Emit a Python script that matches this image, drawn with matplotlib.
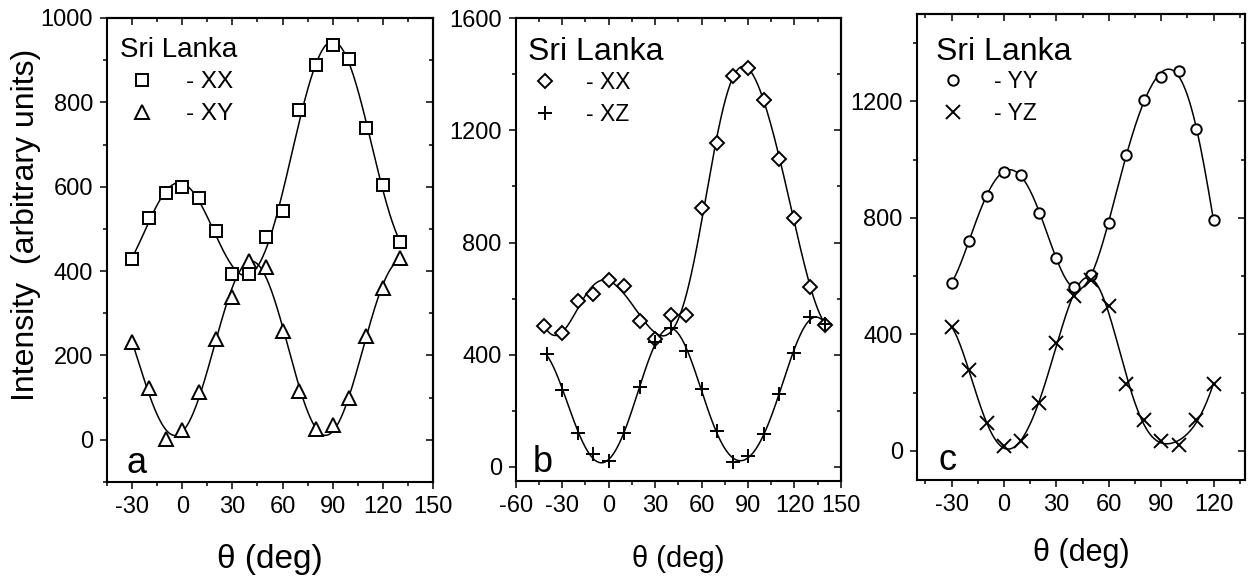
import numpy as np
import matplotlib
matplotlib.use('Agg')
import matplotlib.pyplot as plt
from matplotlib.ticker import MultipleLocator
from matplotlib.lines import Line2D

plt.rcParams['font.family'] = ['Liberation Sans', 'DejaVu Sans']
plt.rcParams['axes.unicode_minus'] = False

# panel a
theta_a = [-30, -20, -10, 0, 10, 20, 30, 40, 50, 60, 70, 80, 90, 100, 110, 120, 130]
xx_a = [428, 525, 586, 600, 573, 495, 393, 393, 481, 542, 783, 888, 935, 903, 740, 604, 468]
xy_a = [231, 123, 2, 24, 113, 239, 338, 424, 410, 259, 115, 26, 34, 99, 245, 361, 430]

# panel b
theta_b_xx = [-42, -30, -20, -10, 0, 10, 20, 30, 40, 50, 60, 70, 80, 90, 100, 110, 120, 130, 140]
xx_b = [503, 477, 590, 617, 665, 646, 521, 456, 543, 543, 923, 1154, 1394, 1421, 1308, 1097, 887, 641, 507]
theta_b_xz = [-40, -30, -20, -10, 0, 10, 20, 30, 40, 50, 60, 70, 80, 90, 100, 110, 120, 130, 140]
xz_b = [404, 275, 121, 46, 20, 121, 285, 444, 495, 414, 279, 130, 16, 38, 119, 261, 408, 534, 510]

# panel c
theta_c = [-30, -20, -10, 0, 10, 20, 30, 40, 50, 60, 70, 80, 90, 100, 110, 120]
yy_c = [577, 722, 875, 957, 948, 817, 661, 562, 604, 783, 1017, 1204, 1282, 1303, 1104, 793]
yz_c = [426, 277, 94, 15, 34, 166, 370, 530, 585, 499, 231, 106, 34, 21, 106, 229]


def harmonic_fit(x, y, order=3, n=400):
    # least squares fit: linear trend + cos(2k theta), sin(2k theta)
    x = np.asarray(x, float)
    y = np.asarray(y, float)
    def basis(t):
        r = np.radians(t)
        cols = [np.ones_like(r), r]
        for k in range(1, order + 1):
            cols += [np.cos(2 * k * r), np.sin(2 * k * r)]
        return np.column_stack(cols)
    coef, *_ = np.linalg.lstsq(basis(x), y, rcond=None)
    xs = np.linspace(x.min(), x.max(), n)
    return xs, basis(xs) @ coef


def style(ax, xlim, ylim, xmaj, ymaj, ymin):
    ax.set_xlim(*xlim)
    ax.set_ylim(*ylim)
    ax.xaxis.set_major_locator(MultipleLocator(xmaj))
    ax.xaxis.set_minor_locator(MultipleLocator(xmaj / 2))
    ax.yaxis.set_major_locator(MultipleLocator(ymaj))
    ax.yaxis.set_minor_locator(MultipleLocator(ymin))
    ax.tick_params(which='both', direction='out', width=1.1, labelsize=17, pad=5)
    ax.tick_params(which='major', length=5)
    ax.tick_params(which='minor', length=3)
    for s in ax.spines.values():
        s.set_linewidth(1.5)
    top = ax.secondary_xaxis('top')
    top.xaxis.set_major_locator(MultipleLocator(xmaj))
    top.xaxis.set_minor_locator(MultipleLocator(xmaj / 2))
    top.tick_params(which='both', direction='in', width=1.1, labeltop=False)
    top.tick_params(which='major', length=5)
    top.tick_params(which='minor', length=3)
    top.spines['top'].set_linewidth(1.5)
    right = ax.secondary_yaxis('right')
    right.yaxis.set_major_locator(MultipleLocator(ymaj))
    right.yaxis.set_minor_locator(MultipleLocator(ymin))
    right.tick_params(which='both', direction='in', width=1.1, labelright=False)
    right.tick_params(which='major', length=5)
    right.tick_params(which='minor', length=3)
    right.spines['right'].set_linewidth(1.5)


def series(ax, x, y, marker, ms, order=3):
    xs, ys = harmonic_fit(x, y, order)
    ax.plot(xs, ys, color='black', lw=1.1, zorder=2)
    ax.plot(x, y, ls='none', marker=marker, ms=ms, mfc='white', mec='black',
            mew=1.4, zorder=3)


def legend(ax, entries, anchor, fs):
    handles = [Line2D([], [], ls='none', marker=m, ms=s, mfc='white', mec='black', mew=1.4)
               for m, s, _ in entries]
    labels = [lab for _, _, lab in entries]
    ax.legend(handles, labels, loc='upper left', bbox_to_anchor=anchor, frameon=False,
              fontsize=fs, handlelength=1.0, handletextpad=1.3, labelspacing=0.4,
              borderpad=0, borderaxespad=0)


fig = plt.figure(figsize=(12.49, 5.76), dpi=100)
axa = fig.add_axes([0.0857, 0.1632, 0.261, 0.8056])
axb = fig.add_axes([0.4129, 0.1649, 0.2604, 0.8038])
axc = fig.add_axes([0.7339, 0.1667, 0.2629, 0.809])

# a
style(axa, (-45, 150), (-100, 1000), 30, 200, 100)
series(axa, theta_a, xx_a, 's', 8.5)
series(axa, theta_a, xy_a, '^', 9.5)
axa.text(0.04, 0.916, 'Sri Lanka', transform=axa.transAxes, fontsize=20)
legend(axa, [('s', 8.5, '- XX'), ('^', 9.5, '- XY')], (0.07, 0.885), 17.5)
axa.text(0.061, 0.019, 'a', transform=axa.transAxes, fontsize=26)
axa.set_xlabel('θ (deg)', fontsize=24, labelpad=19)

# b
style(axb, (-60, 150), (-50, 1600), 30, 400, 200)
series(axb, theta_b_xx, xx_b, 'D', 7, order=4)
series(axb, theta_b_xz, xz_b, '+', 10, order=4)
axb.text(0.038, 0.909, 'Sri Lanka', transform=axb.transAxes, fontsize=23)
legend(axb, [('D', 7, '- XX'), ('+', 10, '- XZ')], (0.055, 0.885), 16.5)
axb.text(0.053, 0.019, 'b', transform=axb.transAxes, fontsize=26)
axb.set_xlabel('θ (deg)', fontsize=21, labelpad=20)

# c
style(axc, (-50, 138), (-100, 1500), 30, 400, 200)
series(axc, theta_c, yy_c, 'o', 7.5, order=4)
series(axc, theta_c, yz_c, 'x', 9.5, order=4)
axc.text(0.059, 0.901, 'Sri Lanka', transform=axc.transAxes, fontsize=23)
legend(axc, [('o', 7.5, '- YY'), ('x', 9.5, '- YZ')], (0.075, 0.88), 16.5)
axc.text(0.068, 0.021, 'c', transform=axc.transAxes, fontsize=26)
axc.set_xlabel('θ (deg)', fontsize=22, labelpad=16)

fig.text(0.021, 0.609, 'Intensity  (arbitrary units)', rotation=90, fontsize=23,
         ha='center', va='center')

fig.savefig('out.png', dpi=100)
